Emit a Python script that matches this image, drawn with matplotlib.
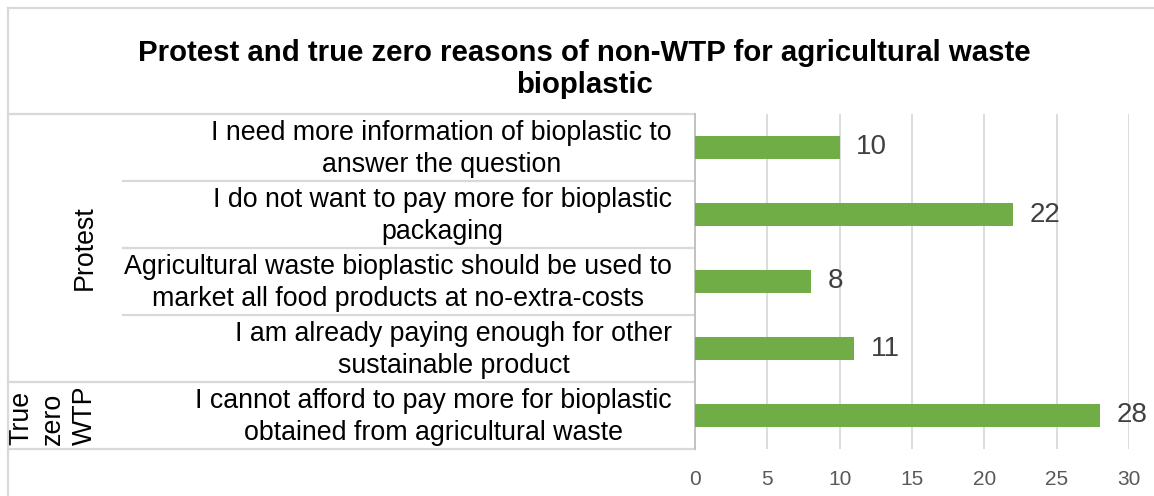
import matplotlib
matplotlib.use('Agg')
import matplotlib.pyplot as plt
import matplotlib.transforms as mtransforms
from matplotlib.lines import Line2D

plt.rcParams['font.family'] = ['Liberation Sans', 'DejaVu Sans']

# data
reasons = [
    'I need more information of bioplastic to\nanswer the question',
    'I do not want to pay more for bioplastic\npackaging',
    'Agricultural waste bioplastic should be used to\nmarket all food products at no-extra-costs',
    'I am already paying enough for other\nsustainable product',
    'I cannot afford to pay more for bioplastic\nobtained from agricultural waste',
]
counts = [10, 22, 8, 11, 28]
groups = ['Protest', 'True\nzero\nWTP']
group_rows = [(0, 3), (4, 4)]
xticks = [0, 5, 10, 15, 20, 25, 30]

W, H = 1154, 496
fig = plt.figure(figsize=(W / 100, H / 100), dpi=100)
ax = fig.add_axes([695 / W, 1 - 449 / H, (1129 - 695) / W, (449 - 114) / H])

grid_c = '#D9D9D9'
pos = list(range(len(reasons)))
ax.barh(pos, counts, height=0.35, color='#70AD47', zorder=3)
for p, v in zip(pos, counts):
    ax.annotate(str(v), (v, p), xytext=(12, 0), textcoords='offset points',
                ha='left', va='center', fontsize=20, color='#404040')

ax.set_xlim(0, 30)
ax.set_ylim(len(reasons) - 0.5, -0.5)
ax.set_xticks(xticks)
ax.set_yticks([])
ax.xaxis.grid(True, color=grid_c, linewidth=1.3, zorder=0)
ax.tick_params(axis='x', length=0, pad=15, labelsize=15, labelcolor='#595959')
for s in ['top', 'right', 'bottom']:
    ax.spines[s].set_visible(False)
ax.spines['left'].set_color('#BFBFBF')
ax.spines['left'].set_linewidth(1.3)

# category table on the left
tr = mtransforms.blended_transform_factory(fig.transFigure, ax.transData)
for i, lab in enumerate(reasons):
    ax.text(672 / W, i + 0.02, lab, transform=tr, ha='right', va='center',
            multialignment='center', fontsize=19.3, linespacing=1.3,
            color='#000000')

for b in range(len(reasons) + 1):
    y = b - 0.5
    x0 = 8 / W
    if b not in (0, 4, 5):
        x0 = 123 / W
    ax.add_line(Line2D([x0, 695 / W], [y, y], transform=tr, color=grid_c,
                       linewidth=1.6, clip_on=False))

group_x = [85 / W, 53 / W]
for g, (r0, r1), gx in zip(groups, group_rows, group_x):
    ax.text(gx, (r0 + r1) / 2, g, transform=tr, rotation=90, ha='center',
            va='center', multialignment='left', fontsize=19.3,
            linespacing=1.3, color='#000000')

# chart border
fig.add_artist(Line2D([8 / W, 1], [1 - 8 / H, 1 - 8 / H], transform=fig.transFigure,
                      color=grid_c, linewidth=1.6))
fig.add_artist(Line2D([8 / W, 8 / W], [0, 1 - 8 / H], transform=fig.transFigure,
                      color=grid_c, linewidth=1.6))

fig.text(584 / W, 1 - 69 / H,
         'Protest and true zero reasons of non-WTP for agricultural waste\nbioplastic',
         ha='center', va='center', fontsize=21.2, fontweight='bold', color='#000000')

fig.savefig('out.png', dpi=100)
plt.close(fig)
